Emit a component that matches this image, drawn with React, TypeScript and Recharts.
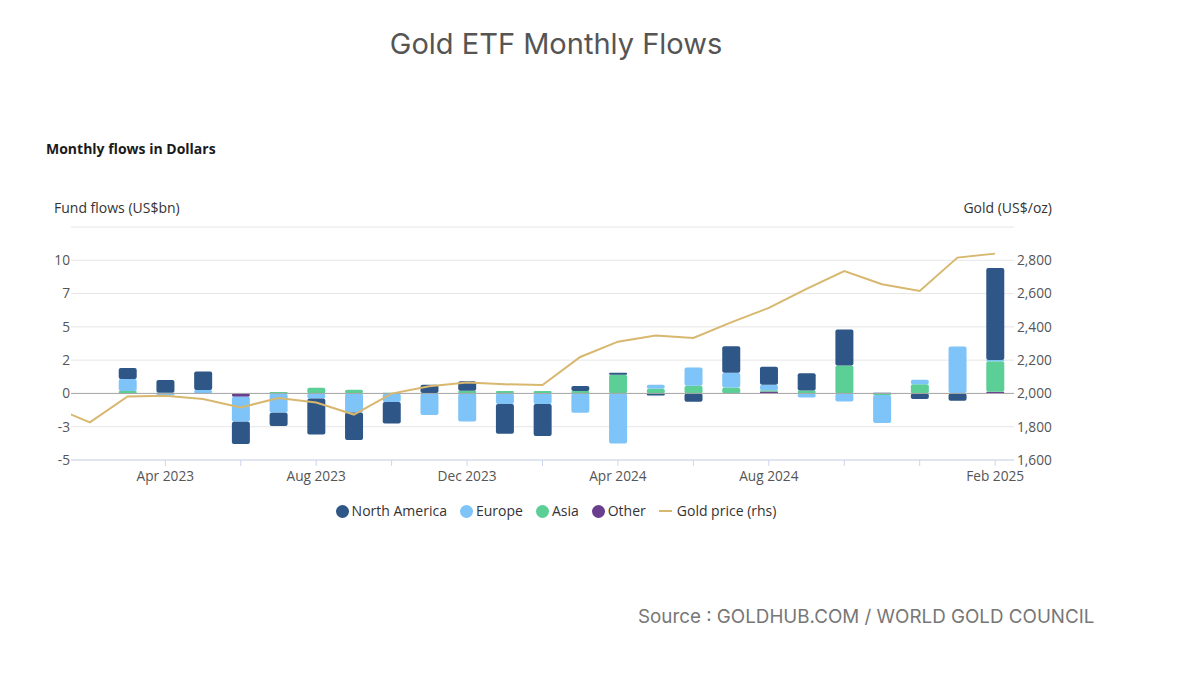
import React from 'react';
import {
  ComposedChart,
  Bar,
  Line,
  XAxis,
  YAxis,
  CartesianGrid,
  ReferenceLine,
} from 'recharts';

const months = [
  'Jan 2023', 'Feb 2023', 'Mar 2023', 'Apr 2023', 'May 2023', 'Jun 2023',
  'Jul 2023', 'Aug 2023', 'Sep 2023', 'Oct 2023', 'Nov 2023', 'Dec 2023',
  'Jan 2024', 'Feb 2024', 'Mar 2024', 'Apr 2024', 'May 2024', 'Jun 2024',
  'Jul 2024', 'Aug 2024', 'Sep 2024', 'Oct 2024', 'Nov 2024', 'Dec 2024',
  'Jan 2025', 'Feb 2025',
];

const northAmerica = [
  null, null, 0.83, 0.95, 1.4, -1.68, -1.0, -2.7, -2.07, -1.6, 0.62, 0.72,
  -2.22, -2.4, 0.38, 0.15, -0.15, -0.62, 2.0, 1.35, 1.3, 2.7, 0.06, -0.42,
  -0.55, 6.9,
];
const europe = [
  null, null, 0.9, -0.15, 0.25, -1.87, -1.45, -0.38, -1.43, -0.65, -1.62, -2.1,
  -0.8, -0.8, -1.45, -3.77, 0.3, 1.37, 1.1, 0.42, -0.3, -0.6, -2.1, 0.35,
  3.5, 0.1,
];
const asia = [
  null, null, 0.18, 0.05, 0, 0, 0.1, 0.42, 0.28, 0.05, 0.03, 0.2,
  0.18, 0.18, 0.18, 1.4, 0.35, 0.57, 0.45, 0.08, 0.22, 2.1, -0.12, 0.68,
  0.03, 2.3,
];
const other = [
  null, null, 0, 0, 0, -0.25, 0, 0, 0, 0, 0, 0,
  0, 0, 0, 0, 0, 0, 0, 0.15, 0, 0, 0, 0,
  0, 0.12,
];
const goldPrice = [
  1921, 1826, 1982, 1986, 1966, 1916, 1972, 1945, 1873, 1999, 2043, 2065,
  2055, 2050, 2219, 2311, 2348, 2333, 2427, 2514, 2628, 2735, 2656, 2616,
  2816, 2840,
];

const xTickMonths = [
  'Apr 2023', 'Jun 2023', 'Aug 2023', 'Oct 2023', 'Dec 2023',
  'Feb 2024', 'Apr 2024', 'Jun 2024', 'Aug 2024', 'Oct 2024', 'Dec 2024',
  'Feb 2025',
];
const xLabelMonths = ['Apr 2023', 'Aug 2023', 'Dec 2023', 'Apr 2024', 'Aug 2024', 'Feb 2025'];

const leftTicks = [-5, -2.5, 0, 2.5, 5, 7.5, 10, 12.5];
const leftTickLabels = ['-5', '-3', '0', '2', '5', '7', '10', ''];
const rightTicks = [1600, 1800, 2000, 2200, 2400, 2600, 2800, 3000];
const rightTickLabels = ['1,600', '1,800', '2,000', '2,200', '2,400', '2,600', '2,800', ''];

const seriesNames = ['North America', 'Europe', 'Asia', 'Other'];
const COLORS = {
  na: '#2e5687',
  eu: '#7fc4f8',
  asia: '#5ccf97',
  other: '#6a3e8f',
  gold: '#d8b76e',
};

const data = months.map((m, i) => ({
  idx: i,
  month: m,
  na: northAmerica[i],
  eu: europe[i],
  asia: asia[i],
  other: other[i],
  gold: goldPrice[i],
}));

const FONT = '"Open Sans", "Noto Sans", sans-serif';
const TICK = { fill: '#555', fontSize: 13.7, fontFamily: FONT };

const legendItems = [
  { name: seriesNames[0], color: COLORS.na, type: 'circle' },
  { name: seriesNames[1], color: COLORS.eu, type: 'circle' },
  { name: seriesNames[2], color: COLORS.asia, type: 'circle' },
  { name: seriesNames[3], color: COLORS.other, type: 'circle' },
  { name: 'Gold price (rhs)', color: COLORS.gold, type: 'line' },
];

export default function App() {
  return (
    <div
      style={{
        position: 'absolute',
        left: 0,
        top: 0,
        width: 1200,
        height: 689,
        background: '#fff',
        overflow: 'hidden',
        fontFamily: FONT,
      }}
    >
      <ComposedChart
        width={1200}
        height={689}
        data={data}
        stackOffset="sign"
        margin={{ top: 227, right: 136, bottom: 199, left: 31 }}
      >
        <CartesianGrid
          yAxisId="left"
          vertical={false}
          stroke="#e6e6e6"
          strokeWidth={1}
        />
        <XAxis
          dataKey="idx"
          type="number"
          domain={[0.5, 25.5]}
          allowDataOverflow
          ticks={xTickMonths.map((m) => months.indexOf(m))}
          tickFormatter={(v: number) =>
            xLabelMonths.includes(months[v]) ? months[v] : ''
          }
          height={30}
          stroke="#ccd6eb"
          tickSize={6}
          tickMargin={5}
          tick={TICK}
          interval={0}
        />
        <YAxis
          yAxisId="left"
          domain={[-5, 12.5]}
          ticks={leftTicks}
          tickFormatter={(v: number) => leftTickLabels[leftTicks.indexOf(v)]}
          width={40}
          axisLine={false}
          tickLine={false}
          tickSize={0}
          tickMargin={1}
          tick={TICK}
          interval={0}
        />
        <YAxis
          yAxisId="right"
          orientation="right"
          domain={[1600, 3000]}
          ticks={rightTicks}
          tickFormatter={(v: number) => rightTickLabels[rightTicks.indexOf(v)]}
          width={50}
          axisLine={false}
          tickLine={false}
          tickSize={0}
          tickMargin={3}
          tick={{ ...TICK, textAnchor: 'start' }}
          interval={0}
        />
        <Bar yAxisId="left" dataKey="other" name={seriesNames[3]} stackId="a" fill={COLORS.other} barSize={18} radius={2} isAnimationActive={false} />
        <Bar yAxisId="left" dataKey="asia" name={seriesNames[2]} stackId="a" fill={COLORS.asia} barSize={18} radius={2} isAnimationActive={false} />
        <Bar yAxisId="left" dataKey="eu" name={seriesNames[1]} stackId="a" fill={COLORS.eu} barSize={18} radius={2} isAnimationActive={false} />
        <Bar yAxisId="left" dataKey="na" name={seriesNames[0]} stackId="a" fill={COLORS.na} barSize={18} radius={2} isAnimationActive={false} />
        <ReferenceLine yAxisId="left" y={0} stroke="#a6a6a6" strokeWidth={1} />
        <Line
          yAxisId="right"
          dataKey="gold"
          name="Gold price (rhs)"
          type="linear"
          stroke={COLORS.gold}
          strokeWidth={2}
          dot={false}
          activeDot={false}
          isAnimationActive={false}
        />
      </ComposedChart>

      <svg
        width={1200}
        height={689}
        style={{ position: 'absolute', left: 0, top: 0, pointerEvents: 'none' }}
      >
        <text x={556} y={54} textAnchor="middle" fontFamily="Inter, Roboto, sans-serif" fontSize={29} fill="#555">
          Gold ETF Monthly Flows
        </text>
        <text x={46} y={154} fontFamily={FONT} fontSize={14} fontWeight={700} fill="#1a1a1a">
          Monthly flows in Dollars
        </text>
        <text x={54} y={213} fontFamily={FONT} fontSize={14} fill="#333">
          Fund flows (US$bn)
        </text>
        <text x={1052} y={213} textAnchor="end" fontFamily={FONT} fontSize={14} fill="#333">
          Gold (US$/oz)
        </text>
        <text x={638} y={623} fontFamily="Inter, Roboto, sans-serif" fontSize={18.8} fill="#777">
          Source : GOLDHUB.COM / WORLD GOLD COUNCIL
        </text>
      </svg>

      <div
        style={{
          position: 'absolute',
          left: 0,
          width: 1112,
          top: 503,
          display: 'flex',
          justifyContent: 'center',
          alignItems: 'center',
          fontFamily: FONT,
          fontSize: 14,
          lineHeight: '16px',
          color: '#333',
        }}
      >
        {legendItems.map((it, i) => (
          <div
            key={it.name}
            style={{
              display: 'flex',
              alignItems: 'center',
              marginRight: i === legendItems.length - 1 ? 0 : 13,
            }}
          >
            {it.type === 'circle' ? (
              <span
                style={{
                  width: 13,
                  height: 13,
                  borderRadius: '50%',
                  background: it.color,
                  display: 'inline-block',
                  marginRight: 3,
                }}
              />
            ) : (
              <span
                style={{
                  width: 13,
                  height: 2,
                  background: it.color,
                  display: 'inline-block',
                  marginRight: 5,
                }}
              />
            )}
            <span>{it.name}</span>
          </div>
        ))}
      </div>
    </div>
  );
}
